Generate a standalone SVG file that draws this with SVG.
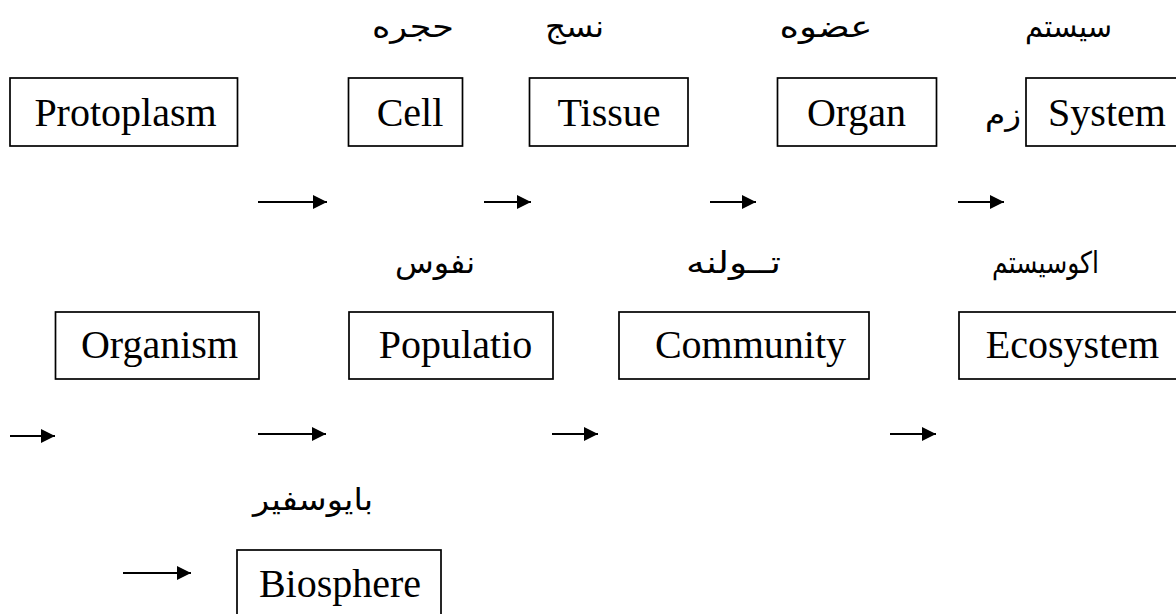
<svg xmlns="http://www.w3.org/2000/svg" width="1176" height="614" viewBox="0 0 1176 614">
<style>
.box{fill:#fff;stroke:#000;stroke-width:1.7}
.en{font-family:"Liberation Serif","Times New Roman",serif;font-size:40px;fill:#000;text-anchor:middle}
.fa{font-family:"DejaVu Sans","Noto Sans",sans-serif;font-size:30px;fill:#000;text-anchor:middle}
.conn{stroke:#000;stroke-width:1.8;fill:none}
</style>
<defs>
<marker id="ah" markerUnits="userSpaceOnUse" markerWidth="14" markerHeight="14" viewBox="0 0 14 14" refX="14" refY="7" orient="auto">
<path d="M0,0 L14,7 L0,14 z" fill="#000"/>
</marker>
</defs>
<rect width="1176" height="614" fill="#fff"/>
<g id="connectors">
<line class="conn" x1="258" y1="202" x2="327" y2="202" marker-end="url(#ah)"/>
<line class="conn" x1="484" y1="202" x2="531" y2="202" marker-end="url(#ah)"/>
<line class="conn" x1="710" y1="202" x2="756" y2="202" marker-end="url(#ah)"/>
<line class="conn" x1="958" y1="202" x2="1004" y2="202" marker-end="url(#ah)"/>
<line class="conn" x1="10" y1="436" x2="55" y2="436" marker-end="url(#ah)"/>
<line class="conn" x1="258" y1="434" x2="326" y2="434" marker-end="url(#ah)"/>
<line class="conn" x1="552" y1="434" x2="598" y2="434" marker-end="url(#ah)"/>
<line class="conn" x1="890" y1="434" x2="936" y2="434" marker-end="url(#ah)"/>
<line class="conn" x1="123" y1="573" x2="191" y2="573" marker-end="url(#ah)"/>
</g>
<g id="protoplasm">
<rect class="box" x="10" y="78" width="227.5" height="68"/>
<text class="en" x="125.5" y="126">Protoplasm</text>
</g>
<g id="cell">
<rect class="box" x="348.5" y="78" width="114" height="68"/>
<text class="en" x="410" y="126">Cell</text>
<text class="fa" x="413" y="37" textLength="82" lengthAdjust="spacingAndGlyphs">حجره</text>
</g>
<g id="tissue">
<rect class="box" x="529.5" y="78" width="158.5" height="68"/>
<text class="en" x="609" y="126">Tissue</text>
<text class="fa" x="574.5" y="37" textLength="59" lengthAdjust="spacingAndGlyphs">نسج</text>
</g>
<g id="organ">
<rect class="box" x="777.5" y="78" width="159" height="68"/>
<text class="en" x="856.5" y="126">Organ</text>
<text class="fa" x="826" y="37" textLength="93" lengthAdjust="spacingAndGlyphs">عضوه</text>
</g>
<g id="system">
<rect class="box" x="1026" y="78" width="160" height="68"/>
<text class="en" x="1107" y="126">System</text>
<text class="fa" x="1068.5" y="37" textLength="87" lengthAdjust="spacingAndGlyphs">سیستم</text>
<text class="fa" x="1003" y="125" textLength="36" lengthAdjust="spacingAndGlyphs">زم</text>
</g>
<g id="organism">
<rect class="box" x="55.5" y="312" width="203.5" height="67"/>
<text class="en" x="159.5" y="358">Organism</text>
</g>
<g id="population">
<rect class="box" x="349" y="312" width="204" height="67"/>
<text class="en" x="455.5" y="358">Populatio</text>
<text class="fa" x="435" y="273" textLength="80" lengthAdjust="spacingAndGlyphs">نفوس</text>
</g>
<g id="community">
<rect class="box" x="619" y="312" width="250" height="67"/>
<text class="en" x="750.5" y="358">Community</text>
<text class="fa" x="733.5" y="273" textLength="95" lengthAdjust="spacingAndGlyphs">تــولنه</text>
</g>
<g id="ecosystem">
<rect class="box" x="959" y="312" width="230" height="67"/>
<text class="en" x="1072.5" y="358">Ecosystem</text>
<text class="fa" x="1045.5" y="273" textLength="107" lengthAdjust="spacingAndGlyphs">اکوسیستم</text>
</g>
<g id="biosphere">
<rect class="box" x="237" y="550" width="204" height="80"/>
<text class="en" x="340" y="597">Biosphere</text>
<text class="fa" x="313" y="510" textLength="120" lengthAdjust="spacingAndGlyphs">بایوسفیر</text>
</g>
</svg>
